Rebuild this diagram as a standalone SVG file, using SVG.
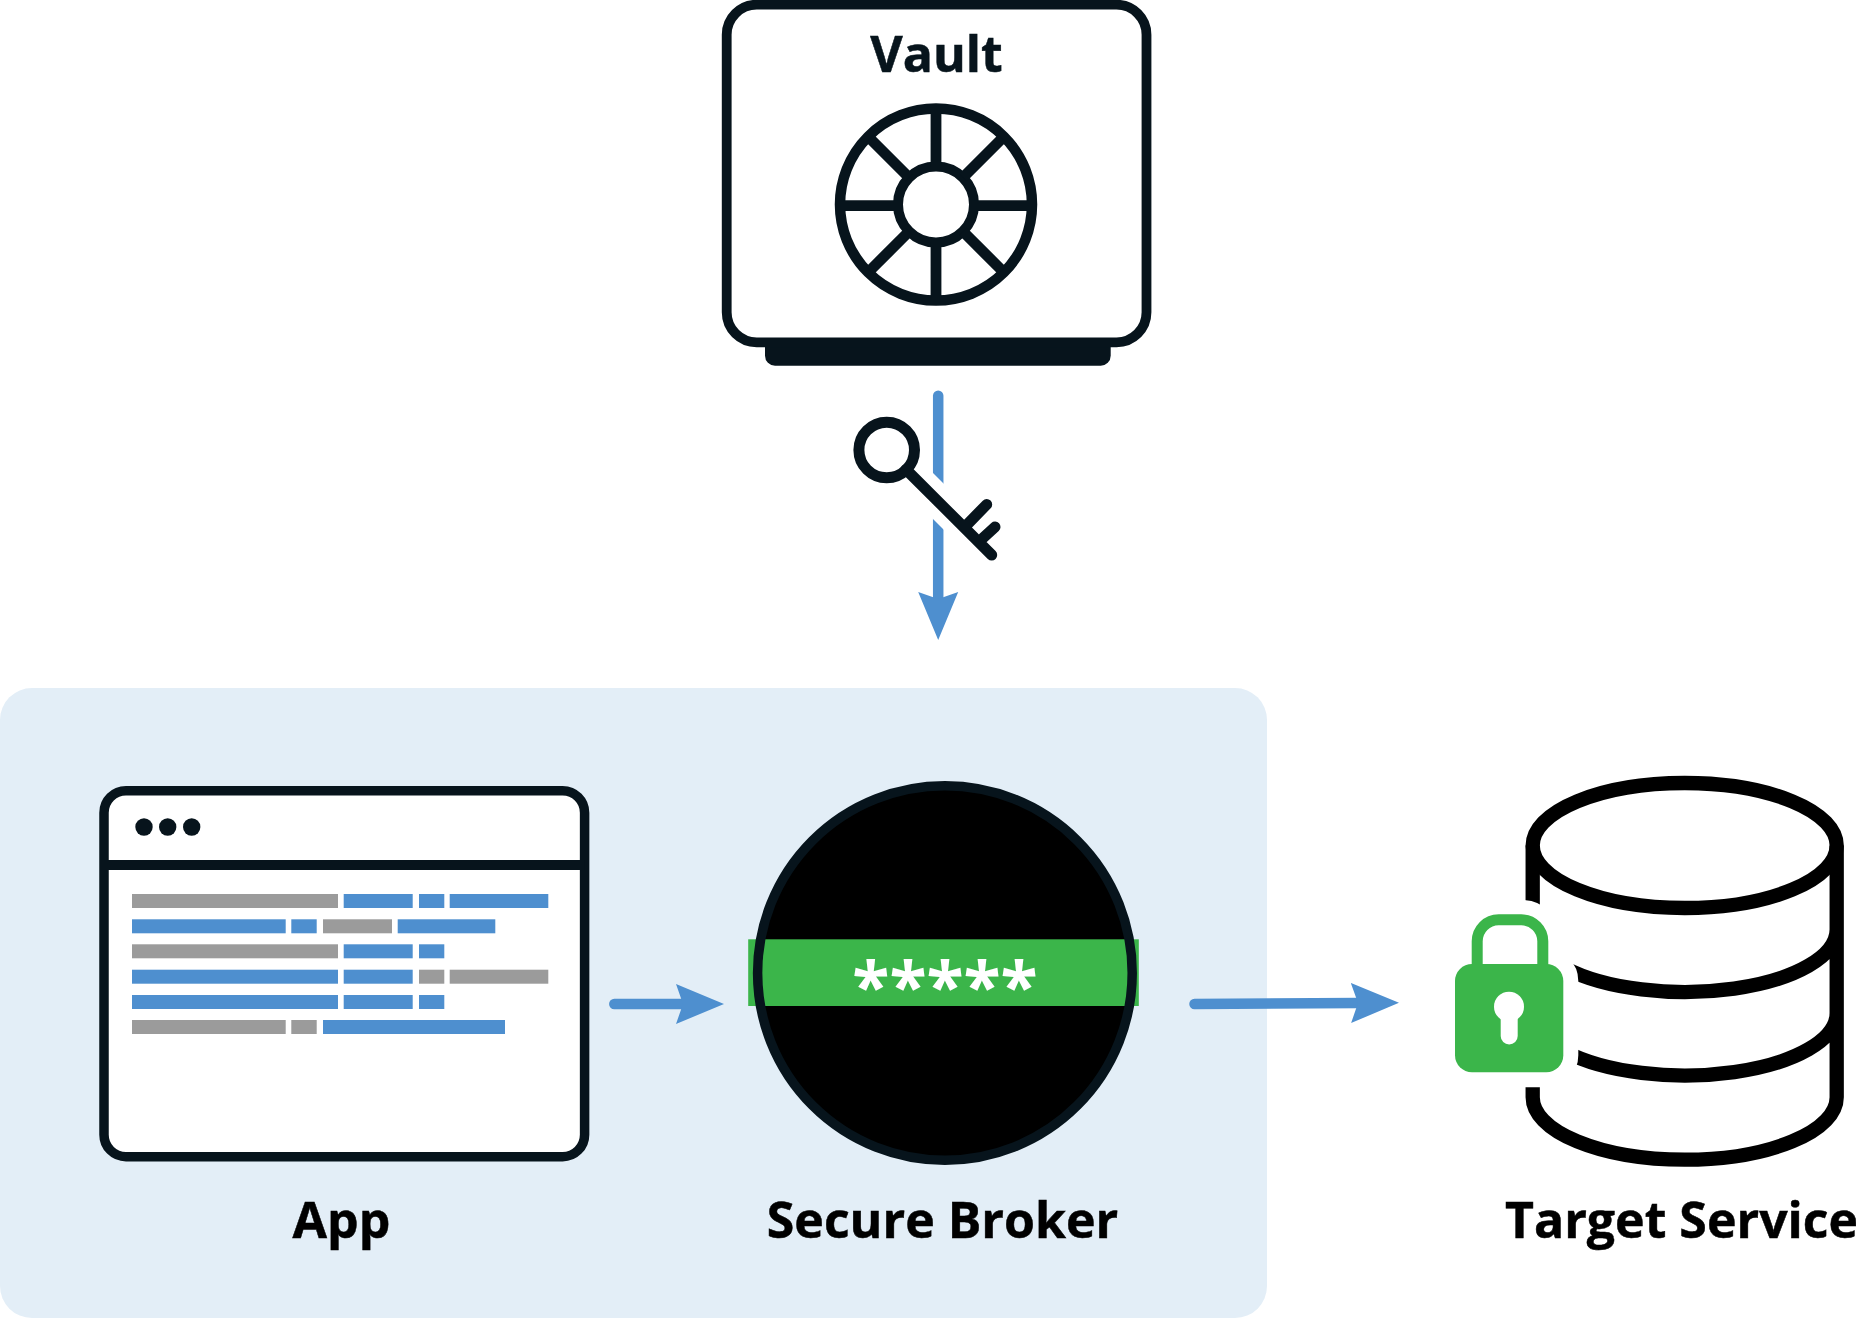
<svg xmlns="http://www.w3.org/2000/svg" width="1856" height="1318" viewBox="0 0 1856 1318">
<style>
.dark{fill:none;stroke:#07141c;stroke-width:10}
.db{fill:none;stroke:#000;stroke-width:14.300}
.label{font-family:"Open Sans",sans-serif;font-weight:700;font-size:50px;fill:#000;stroke:#000;stroke-width:.5}
.conn{fill:none;stroke:#4e8fcf;stroke-width:10.500;stroke-linecap:round}
.b{fill:#4e8fcf}.g{fill:#9b9b9b}
.halo{fill:none;stroke:#fff}
</style>
<defs>
<marker id="head" markerUnits="userSpaceOnUse" markerWidth="50" markerHeight="42" refX="7" refY="20.5" orient="auto">
<path d="M0 0.500L48 20.500L0 40.500L7 20.500Z" fill="#4e8fcf"/>
</marker>
</defs>
<rect width="1856" height="1318" fill="#fff"/>
<rect id="panel" x="0" y="688" width="1267" height="630" rx="32" fill="#e3eef7"/>
<g id="connectors">
<line class="conn" x1="614.300" y1="1004" x2="683" y2="1004" marker-end="url(#head)"/>
<line class="conn" x1="1194.500" y1="1004" x2="1358" y2="1003" marker-end="url(#head)"/>
<line class="conn" x1="938.200" y1="395.700" x2="938.200" y2="599" marker-end="url(#head)"/>
</g>
<g id="vault">
<rect x="765" y="330" width="345.700" height="35.700" rx="10" fill="#07141c"/>
<rect x="726.700" y="4.700" width="419.800" height="337.600" rx="30" fill="#fff" stroke="#07141c" stroke-width="9.800"/>
<circle class="dark" cx="936" cy="204.500" r="96" style="stroke-width:10.500"/>
<circle class="dark" cx="936" cy="204.500" r="38"/>
<path class="dark" style="stroke-width:10.800" d="M936 111V167M936 242V298M843 205.700H899M973 205.700H1029M870 138.500L909 177.500M1002 138.500L963 177.500M870 270.500L909 231.500M1002 270.500L963 231.500"/>
<text class="label" x="936.500" y="71.700" text-anchor="middle" style="fill:#07141c;stroke:#07141c">Vault</text>
</g>
<g id="key">
<line class="halo" x1="890" y1="453" x2="1000" y2="563" stroke-width="32.500"/>
<circle cx="886.700" cy="450" r="27.800" fill="#fff" stroke="#07141c" stroke-width="11"/>
<path d="M906 469.500L991.700 555M968.300 523.300L986.700 504.500M983 538L995 527" fill="none" stroke="#07141c" stroke-width="11" stroke-linecap="round"/>
</g>
<g id="app">
<rect x="104" y="790.700" width="480.600" height="366" rx="22" fill="#fff" stroke="#07141c" stroke-width="9.500"/>
<line x1="104" y1="865" x2="584.600" y2="865" stroke="#07141c" stroke-width="10"/>
<g fill="#07141c"><circle cx="144" cy="827" r="8.700"/><circle cx="167.700" cy="827" r="8.700"/><circle cx="191.700" cy="827" r="8.700"/></g>
<rect class="g" x="132" y="894" width="206" height="14"/><rect class="b" x="343.700" y="894" width="69" height="14"/><rect class="b" x="419" y="894" width="25.300" height="14"/><rect class="b" x="449.700" y="894" width="98.600" height="14"/>
<rect class="b" x="132" y="919.300" width="153.700" height="14"/><rect class="b" x="291.300" y="919.300" width="25.400" height="14"/><rect class="g" x="323" y="919.300" width="69" height="14"/><rect class="b" x="397.700" y="919.300" width="97.600" height="14"/>
<rect class="g" x="132" y="944.300" width="206" height="14"/><rect class="b" x="343.700" y="944.300" width="69" height="14"/><rect class="b" x="419" y="944.300" width="25.300" height="14"/>
<rect class="b" x="132" y="969.700" width="206" height="14"/><rect class="b" x="343.700" y="969.700" width="69" height="14"/><rect class="g" x="419" y="969.700" width="25.300" height="14"/><rect class="g" x="449.700" y="969.700" width="98.600" height="14"/>
<rect class="b" x="132" y="995" width="206" height="14"/><rect class="b" x="343.700" y="995" width="69" height="14"/><rect class="b" x="419" y="995" width="25.300" height="14"/>
<rect class="g" x="132" y="1020" width="153.700" height="14"/><rect class="g" x="291.300" y="1020" width="25.400" height="14"/><rect class="b" x="323" y="1020" width="182" height="14"/>
<text class="label" x="341.500" y="1238.300" text-anchor="middle">App</text>
</g>
<g id="broker">
<circle cx="944.900" cy="973" r="187.300" fill="#000"/>
<rect x="748.200" y="939.300" width="390.600" height="66.700" fill="#3bb54a"/>
<circle cx="944.900" cy="973" r="187.300" fill="none" stroke="#07141c" stroke-width="9.500"/>
<text x="945" y="1011" text-anchor="middle" font-family="'Open Sans',sans-serif" font-weight="700" font-size="68" fill="#fff">*****</text>
<text class="label" x="942.500" y="1238.300" text-anchor="middle">Secure Broker</text>
</g>
<g id="target">
<ellipse class="db" cx="1684.700" cy="845.500" rx="152" ry="62.500"/>
<path class="db" d="M1532.700 845.500V1097.200A152 62.500 0 0 0 1836.700 1097.200V845.500M1836.700 929.500A152 62.500 0 0 1 1565 968M1836.700 1013A152 62.500 0 0 1 1565 1051.500"/>
<path class="halo" d="M1477.200 966V941.300A21.500 21.500 0 0 1 1498.700 919.800H1521.300A21.500 21.500 0 0 1 1542.800 941.300V966" stroke-width="40"/>
<rect x="1455" y="964" width="108.300" height="108.300" rx="17" fill="#fff" stroke="#fff" stroke-width="30"/>
<path d="M1477.200 970V941.300A21.500 21.500 0 0 1 1498.700 919.800H1521.300A21.500 21.500 0 0 1 1542.800 941.300V970" fill="none" stroke="#3bb54a" stroke-width="11"/>
<rect x="1455" y="964" width="108.300" height="108.300" rx="17" fill="#3bb54a"/>
<circle cx="1509" cy="1006.700" r="15" fill="#fff"/>
<line x1="1509.200" y1="1010" x2="1509.200" y2="1036" stroke="#fff" stroke-width="17" stroke-linecap="round"/>
<text class="label" x="1505" y="1238.300">Target Service</text>
</g>
</svg>
